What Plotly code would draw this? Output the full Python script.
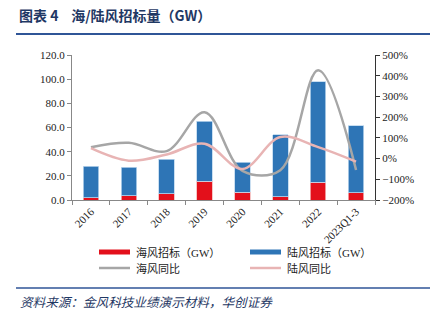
import plotly.graph_objects as go

categories = ["2016", "2017", "2018", "2019", "2020", "2021", "2022", "2023Q1-3"]
offshore_gw = [2.0, 3.6, 5.0, 15.4, 6.3, 2.8, 14.6, 6.1]
total_gw = [28.1, 27.3, 33.7, 65.1, 31.2, 53.8, 98.0, 61.3]
onshore_gw = [round(t - o, 1) for t, o in zip(total_gw, offshore_gw)]
offshore_yoy = [55, 76, 36, 224, -59, -56, 426, -55]
onshore_yoy = [50, -10, 20, 72, -50, 104, 55, -15]

W, H = 433, 321
ML, MR, MT, MB = 72, 58, 55, 121
PH = H - MT - MB
PW = W - ML - MR

def py(y):  # pixel y -> paper y
    return (H - MB - y) / PH

def px(x):  # pixel x -> paper x
    return (x - ML) / PW

RED = "#E3101B"
BLUE = "#2E75B6"
GRAY = "#A6A6A6"
PINK = "#E8B4B4"
NAVY = "#1F3864"
SERIF = "Liberation Serif, Times New Roman, serif"
CJK = "Liberation Serif, Noto Sans CJK SC, serif"

fig = go.Figure()
fig.add_bar(x=categories, y=offshore_gw, name="海风招标（GW）", marker_color=RED,
            marker_line=dict(color="#F4B6B6", width=0.8), showlegend=False)
fig.add_bar(x=categories, y=onshore_gw, name="陆风招标（GW）", marker_color=BLUE,
            marker_line=dict(color="#BDD7EE", width=0.8), showlegend=False)
fig.add_scatter(x=categories, y=offshore_yoy, name="海风同比", yaxis="y2", mode="lines",
                line=dict(color=GRAY, width=2.5, shape="spline", smoothing=1.0), showlegend=False)
fig.add_scatter(x=categories, y=onshore_yoy, name="陆风同比", yaxis="y2", mode="lines",
                line=dict(color=PINK, width=2.5, shape="spline", smoothing=1.0), showlegend=False)

fig.update_layout(
    width=W, height=H, margin=dict(l=ML, r=MR, t=MT, b=MB),
    paper_bgcolor="white", plot_bgcolor="white",
    barmode="stack", bargap=0.59,
    font=dict(family=SERIF, size=11, color="#222"),
    xaxis=dict(type="category", range=[-0.5, 7.5], tickangle=-45, showline=True,
               linecolor="#888", linewidth=1, ticks="outside", ticklen=4, tickcolor="#888",
               tickson="boundaries", showgrid=False, tickfont=dict(size=11, family=SERIF)),
    yaxis=dict(range=[0, 120], dtick=20, tickformat=".1f", showline=True, linecolor="#888",
               linewidth=1, ticks="outside", ticklen=4, tickcolor="#888", showgrid=False,
               zeroline=False, tickfont=dict(size=11, family=SERIF)),
    yaxis2=dict(range=[-200, 500], dtick=100, ticksuffix="%", overlaying="y", side="right",
                showline=True, linecolor="#333", linewidth=1, ticks="outside", ticklen=4,
                tickcolor="#333", showgrid=False, zeroline=False,
                tickfont=dict(size=11, family=SERIF)),
)

shapes = []
annotations = []
# Title
annotations.append(dict(text="<b>图表 4    海/陆风招标量（GW）</b>", x=px(17), y=py(15),
                        xref="paper", yref="paper", xanchor="left", yanchor="middle",
                        showarrow=False, font=dict(size=14, color=NAVY, family="Noto Sans CJK SC")))
shapes.append(dict(type="line", xref="paper", yref="paper", x0=px(16), x1=px(430),
                   y0=py(34), y1=py(34), line=dict(color="#2F5597", width=2)))
# Footer
shapes.append(dict(type="line", xref="paper", yref="paper", x0=px(16), x1=px(430),
                   y0=py(288), y1=py(288), line=dict(color="#2F5597", width=1.5)))
annotations.append(dict(text="<i>资料来源：金风科技业绩演示材料，华创证券</i>", x=px(18), y=py(301),
                        xref="paper", yref="paper", xanchor="left", yanchor="middle",
                        showarrow=False, font=dict(size=12.6, color=NAVY, family="Noto Sans CJK SC")))
# Legend (manual)
legend_items = [
    ("海风招标（GW）", RED, 99, 252, 5),
    ("陆风招标（GW）", BLUE, 250, 252, 5),
    ("海风同比", GRAY, 99, 268, 2.5),
    ("陆风同比", PINK, 250, 268, 2.5),
]
for label, color, x0, yc, thick in legend_items:
    shapes.append(dict(type="rect", xref="paper", yref="paper", x0=px(x0), x1=px(x0 + 31),
                       y0=py(yc - thick / 2), y1=py(yc + thick / 2),
                       fillcolor=color, line=dict(width=0)))
    annotations.append(dict(text=label, x=px(x0 + 35), y=py(yc), xref="paper", yref="paper",
                            xanchor="left", yanchor="middle", showarrow=False,
                            font=dict(size=11, color="#222", family=CJK)))

fig.update_layout(shapes=shapes, annotations=annotations)
fig.write_html("out.html")
